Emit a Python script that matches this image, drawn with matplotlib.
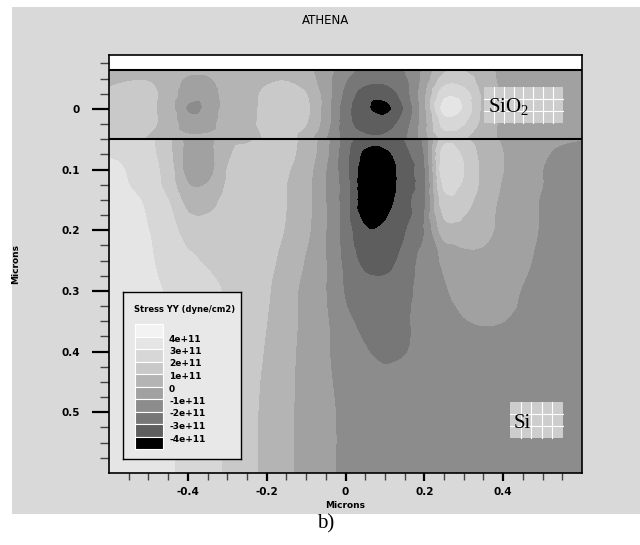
import numpy as np
import matplotlib.pyplot as plt
import matplotlib.tri as mtri
from matplotlib.patches import Rectangle

plt.rcParams['font.family'] = 'DejaVu Sans'
plt.rcParams['mathtext.fontset'] = 'custom'
plt.rcParams['mathtext.rm'] = 'Liberation Serif'

# ==================================================
# DATA (stress yy, in units of 1e11 dyne/cm2)
# ==================================================

#grid columns (microns)
x_nodes = [-0.6, -0.55, -0.5, -0.45, -0.4, -0.35, -0.3, -0.25, -0.2, -0.15, -0.1, -0.05, 0.0,
           0.05, 0.1, 0.15, 0.2, 0.25, 0.3, 0.35, 0.4, 0.45, 0.5, 0.55, 0.6]

#grid rows in the oxide layer
y_oxide = [-0.064, -0.045, -0.025, 0.0, 0.025, 0.05]

stress_oxide = [
    [0.5, 0.6, 0.6, 0.5, 0.2, 0.2, 0.5, 0.6, 0.7, 0.6, 0.2, -0.6, -1.6, -2.3, -2.4, -2.0, -0.8, 0.8, 0.9, 0.3, -0.2, -0.4, -0.5, -0.5, -0.6],
    [0.8, 1.0, 1.0, 0.6, -0.3, -0.3, 0.5, 0.6, 0.9, 1.0, 0.5, -0.6, -2.0, -2.8, -2.9, -2.3, -0.6, 1.6, 1.6, 0.5, -0.2, -0.5, -0.5, -0.5, -0.6],
    [1.2, 1.3, 1.2, 0.6, -0.6, -0.6, 0.4, 0.6, 1.2, 1.4, 1.0, -0.5, -2.3, -3.5, -3.6, -2.5, -0.3, 2.6, 2.4, 0.7, -0.2, -0.5, -0.5, -0.5, -0.6],
    [1.3, 1.4, 1.2, 0.5, -1.1, -0.8, 0.4, 0.6, 1.3, 1.5, 1.2, -0.5, -2.6, -3.8, -4.3, -2.9, -0.3, 3.3, 2.8, 0.7, -0.2, -0.5, -0.5, -0.5, -0.6],
    [1.5, 1.5, 1.2, 0.6, -0.5, -0.4, 0.5, 0.6, 1.4, 1.5, 1.0, -0.6, -2.6, -3.4, -3.4, -2.5, -0.4, 2.3, 2.0, 0.6, -0.2, -0.5, -0.5, -0.5, -0.6],
    [1.4, 1.3, 0.9, 0.6, 0.3, 0.3, 0.5, 0.6, 1.1, 1.3, 0.4, -1.0, -2.3, -2.8, -2.8, -2.2, -0.5, 1.2, 1.0, 0.4, -0.2, -0.5, -0.5, -0.5, -0.6],
]

#grid rows in the silicon
y_si = [0.05, 0.075, 0.1, 0.125, 0.15, 0.2, 0.25, 0.3, 0.35, 0.4, 0.45, 0.5, 0.6]

stress_si = [
    [2.6, 2.5, 2.2, 1.2, -0.3, -0.3, 0.6, 0.8, 1.3, 1.2, 0.7, -0.7, -2.5, -3.5, -3.6, -3.0, -1.8, 1.6, 1.2, 0.4, -0.1, -0.5, -0.7, -0.9, -1.0],
    [2.9, 2.7, 2.3, 1.3, -0.4, -0.4, 0.8, 1.4, 1.5, 1.2, 0.6, -0.8, -2.7, -4.3, -4.3, -3.3, -2.0, 2.5, 1.8, 0.6, 0.0, -0.6, -0.9, -1.2, -1.4],
    [3.3, 2.9, 2.4, 1.5, -0.4, -0.4, 1.0, 1.6, 1.6, 1.1, 0.4, -1.0, -2.7, -4.7, -4.7, -3.4, -2.2, 2.7, 2.0, 0.7, 0.0, -0.6, -1.0, -1.3, -1.5],
    [3.5, 3.0, 2.5, 1.6, 0.05, 0.05, 1.1, 1.7, 1.6, 1.0, 0.3, -1.0, -2.6, -4.8, -4.8, -3.4, -2.3, 2.2, 1.8, 0.7, -0.1, -0.6, -1.0, -1.4, -1.5],
    [3.5, 3.2, 2.8, 2.0, 0.6, 0.6, 1.3, 1.8, 1.6, 1.0, 0.3, -1.0, -2.6, -4.8, -4.6, -3.3, -2.2, 1.6, 1.4, 0.5, -0.2, -0.6, -1.1, -1.5, -1.5],
    [3.5, 3.4, 3.0, 2.5, 1.5, 1.4, 1.6, 1.7, 1.5, 0.9, 0.2, -1.0, -2.5, -3.9, -3.8, -3.1, -2.0, 0.5, 0.6, 0.3, -0.3, -0.7, -1.1, -1.5, -1.5],
    [3.5, 3.4, 3.1, 2.7, 2.2, 1.9, 1.8, 1.6, 1.3, 0.6, -0.1, -1.0, -2.3, -3.3, -3.3, -2.7, -1.6, -0.85, -0.4, -0.3, -0.5, -0.85, -1.2, -1.5, -1.5],
    [3.5, 3.4, 3.2, 2.9, 2.5, 2.2, 1.9, 1.5, 1.1, 0.4, -0.3, -1.0, -2.1, -2.6, -2.7, -2.4, -1.5, -1.1, -0.75, -0.6, -0.7, -1.05, -1.3, -1.5, -1.5],
    [3.5, 3.4, 3.3, 3.0, 2.6, 2.2, 1.9, 1.5, 1.0, 0.4, -0.3, -0.9, -1.8, -2.2, -2.4, -2.2, -1.5, -1.3, -1.05, -0.95, -1.0, -1.2, -1.4, -1.5, -1.5],
    [3.5, 3.4, 3.3, 3.05, 2.7, 2.3, 1.9, 1.4, 0.9, 0.3, -0.35, -0.9, -1.5, -1.95, -2.15, -2.05, -1.7, -1.45, -1.4, -1.35, -1.35, -1.45, -1.5, -1.5, -1.5],
    [3.5, 3.4, 3.3, 3.1, 2.75, 2.3, 1.85, 1.35, 0.8, 0.25, -0.35, -0.85, -1.3, -1.6, -1.8, -1.7, -1.6, -1.5, -1.5, -1.5, -1.5, -1.5, -1.5, -1.5, -1.5],
    [3.5, 3.4, 3.3, 3.1, 2.75, 2.3, 1.85, 1.3, 0.75, 0.2, -0.35, -0.8, -1.2, -1.5, -1.5, -1.5, -1.5, -1.5, -1.5, -1.5, -1.5, -1.5, -1.5, -1.5, -1.5],
    [3.5, 3.4, 3.3, 3.1, 2.75, 2.3, 1.85, 1.3, 0.75, 0.2, -0.35, -0.8, -1.2, -1.5, -1.5, -1.5, -1.5, -1.5, -1.5, -1.5, -1.5, -1.5, -1.5, -1.5, -1.5],
]

#legend levels (top to bottom) and the band colours (lightest band first)
level_values = [4, 3, 2, 1, 0, -1, -2, -3, -4]
legend_labels = ['4e+11', '3e+11', '2e+11', '1e+11', '0', '-1e+11', '-2e+11', '-3e+11', '-4e+11']
band_colors = ['#f3f3f3', '#e5e5e5', '#d7d7d7', '#c9c9c9', '#b4b4b4',
               '#a1a1a1', '#8c8c8c', '#777777', '#5e5e5e', '#000000']

#contour bounds in dyne/cm2 (lowest first) with matching colours
bounds = [-1e13] + [v * 1e11 for v in sorted(level_values)] + [1e13]
fill_colors = band_colors[::-1]

# ==================================================
# FIGURE
# ==================================================

W, H = 640, 545
fig = plt.figure(figsize=(6.4, 5.45), dpi=100)

#grey panel behind the plot
fig.add_artist(Rectangle((12 / W, 1 - 514 / H), 628 / W, 507 / H, transform=fig.transFigure,
                         facecolor='#d9d9d9', edgecolor='none', zorder=0))

ax = fig.add_axes([109 / W, 1 - 473 / H, 473 / W, 418 / H])
ax.set_facecolor('white')


#filled contours on a smoothly refined mesh, one layer at a time
def layer_contours(ys, values):
    gx, gy = np.meshgrid(x_nodes, ys)
    z = np.array(values).ravel() * 1e11
    mesh = mtri.Triangulation(gx.ravel(), gy.ravel())
    interp = mtri.CubicTriInterpolator(mesh, z, kind='geom')
    fine_mesh, fine_z = mtri.UniformTriRefiner(mesh).refine_field(z, triinterpolator=interp, subdiv=3)
    cs = ax.tricontourf(fine_mesh, fine_z, levels=bounds, colors=fill_colors)
    cs.set_edgecolor('face')
    cs.set_linewidth(0.3)


layer_contours(y_oxide, stress_oxide)
layer_contours(y_si, stress_si)

#material boundaries
ax.axhline(y_oxide[0], color='black', lw=1.5)
ax.axhline(y_si[0], color='black', lw=1.5)

ax.set_xlim(-0.6, 0.6)
ax.set_ylim(0.6, -0.089)

#ticks
ax.set_xticks([-0.4, -0.2, 0, 0.2, 0.4])
ax.set_xticklabels(['-0.4', '-0.2', '0', '0.2', '0.4'])
ax.set_xticks([-0.55, -0.5, -0.45, -0.35, -0.3, -0.25, -0.15, -0.1, -0.05,
               0.05, 0.1, 0.15, 0.25, 0.3, 0.35, 0.45, 0.5, 0.55], minor=True)
ax.set_yticks([0, 0.1, 0.2, 0.3, 0.4, 0.5])
ax.set_yticklabels(['0', '0.1', '0.2', '0.3', '0.4', '0.5'])
ax.set_yticks([-0.075, -0.05, -0.025, 0.025, 0.05, 0.075, 0.125, 0.15, 0.175, 0.225, 0.25, 0.275,
               0.325, 0.35, 0.375, 0.425, 0.45, 0.475, 0.525, 0.55, 0.575], minor=True)

ax.tick_params(axis='y', which='major', length=12, width=1.6, color='black', pad=9,
               labelsize=7.5)
ax.tick_params(axis='y', which='minor', length=6.5, width=1.0, color='#444444')
ax.tick_params(axis='x', which='major', length=6, width=1.6, color='black', pad=4,
               labelsize=7.5)
ax.tick_params(axis='x', which='minor', length=5, width=1.0, color='#444444')
for lab in ax.get_xticklabels() + ax.get_yticklabels():
    lab.set_fontweight('bold')

for s in ax.spines.values():
    s.set_linewidth(1.2)
    s.set_color('black')


#material label boxes with a white grid pattern
def label_box(x0, y0, x1, y1, ncol, nrow):
    ax.add_patch(Rectangle((x0, y0), x1 - x0, y1 - y0, facecolor='#cdcdcd', edgecolor='none', zorder=3))
    for gx in np.linspace(x0, x1, ncol + 1)[1:-1]:
        ax.plot([gx, gx], [y0, y1], color='white', lw=0.8, zorder=4)
    for gy in np.linspace(y0, y1, nrow + 1)[1:-1]:
        ax.plot([x0, x1], [gy, gy], color='white', lw=0.8, zorder=4)


label_box(0.351, -0.036, 0.552, 0.023, 8, 3)
ax.text(0.361, 0.006, 'SiO$_2$', family='Liberation Serif', fontsize=15, va='baseline', zorder=5)
label_box(0.417, 0.483, 0.552, 0.543, 5, 3)
ax.text(0.427, 0.526, 'Si', family='Liberation Serif', fontsize=15, va='baseline', zorder=5)

#texts around the plot
fig.text(326 / W, 1 - 21 / H, 'ATHENA', ha='center', va='center', fontsize=8.5)
fig.text(16 / W, 1 - 264 / H, 'Microns', rotation=90, ha='center', va='center',
         fontsize=6.5, fontweight='bold')
fig.text(345.5 / W, 1 - 506 / H, 'Microns', ha='center', va='center',
         fontsize=6.5, fontweight='bold')
fig.text(326 / W, 1 - 524 / H, 'b)', ha='center', va='center', family='Liberation Serif', fontsize=15)

# ==================================================
# LEGEND BOX
# ==================================================

lg = fig.add_axes([123 / W, 1 - 459 / H, 118 / W, 167 / H])
lg.set_xlim(0, 118)
lg.set_ylim(167, 0)
lg.set_facecolor('#e8e8e8')
lg.set_xticks([])
lg.set_yticks([])
for s in lg.spines.values():
    s.set_linewidth(1.0)
    s.set_color('black')

lg.text(11, 18, 'Stress YY (dyne/cm2)', ha='left', va='center', fontsize=6, fontweight='bold')

sw_top, sw_h = 32, 12.5
for i, c in enumerate(band_colors):
    lg.add_patch(Rectangle((12, sw_top + i * sw_h), 28, sw_h, facecolor=c,
                           edgecolor='white', lw=0.8))
for i, lab in enumerate(legend_labels):
    lg.text(46, sw_top + (i + 1) * sw_h + 2.5, lab, ha='left', va='center', fontsize=6.5,
            fontweight='bold')

plt.savefig('out.png', dpi=100)
